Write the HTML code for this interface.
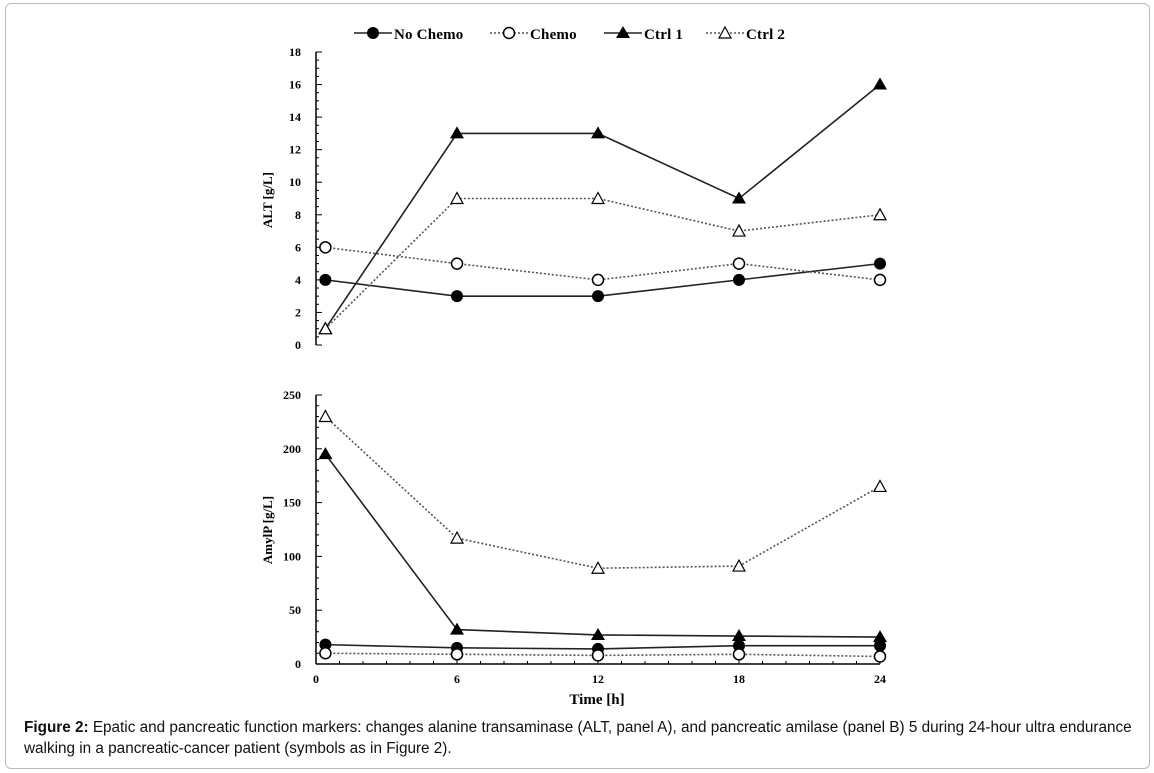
<!DOCTYPE html>
<html><head><meta charset="utf-8"><style>
body{margin:0;background:#fff;width:1154px;height:773px;overflow:hidden;font-family:"Liberation Sans",sans-serif}
#frame{position:absolute;left:5px;top:3px;width:1143px;height:764px;border:1px solid #bbb;border-radius:6px}
#cap{position:absolute;left:24px;top:717px;width:1125px;font-size:15.3px;line-height:21px;color:#111;white-space:nowrap}
</style></head><body>
<div id="frame"></div>
<svg id="chart" width="1154" height="773" style="position:absolute;left:0;top:0" font-family="Liberation Serif, serif" font-weight="bold"></svg>
<div id="cap"><b>Figure 2:</b> Epatic and pancreatic function markers: changes alanine transaminase (ALT, panel A), and pancreatic amilase (panel B) 5 during 24-hour ultra endurance<br>walking in a pancreatic-cancer patient (symbols as in Figure 2).</div>
<script>
const times=[0.4,6,12,18,24];
const seriesNames=["No Chemo","Chemo","Ctrl 1","Ctrl 2"];
const altNoChemo=[4,3,3,4,5];
const altChemo=[6,5,4,5,4];
const altCtrl1=[1,13,13,9,16];
const altCtrl2=[1,9,9,7,8];
const amyNoChemo=[18,15,14,17,17];
const amyChemo=[10,9,8,9,7];
const amyCtrl1=[195,32,27,26,25];
const amyCtrl2=[230,117,89,91,165];
const altTicks=[0,2,4,6,8,10,12,14,16,18];
const amyTicks=[0,50,100,150,200,250];
const xTicks=[0,6,12,18,24];
const NS="http://www.w3.org/2000/svg";
const svg=document.getElementById('chart');
function mk(t,a,p){const e=document.createElementNS(NS,t);for(const k in a)e.setAttribute(k,a[k]);(p||svg).appendChild(e);return e;}
const x=t=>316+t*(880-316)/24;
const yA=v=>345-v*(345-52)/18;
const yB=v=>664-v*(664-395)/250;
const styles=[{dash:null,marker:'dot'},{dash:'2,2',marker:'circle'},{dash:null,marker:'tri'},{dash:'2,2',marker:'otri'}];
function marker(type,cx,cy,g){
  if(type==='dot')mk('circle',{cx,cy,r:6,fill:'#000'},g);
  else if(type==='circle')mk('circle',{cx,cy,r:5.5,fill:'#fff',stroke:'#000','stroke-width':1.5},g);
  else if(type==='tri')mk('polygon',{points:`${cx},${cy-7} ${cx-7},${cy+5} ${cx+7},${cy+5}`,fill:'#000'},g);
  else mk('polygon',{points:`${cx},${cy-6} ${cx-6},${cy+5} ${cx+6},${cy+5}`,fill:'#fff',stroke:'#000','stroke-width':1.2},g);
}
function series(vals,i,yf,name){
  const g=mk('g',{});
  
  
  const st=styles[i];
  const a={points:vals.map((v,k)=>x(times[k])+','+yf(v)).join(' '),fill:'none',stroke:st.dash?'#555':'#222','stroke-width':1.6};
  if(st.dash)a['stroke-dasharray']=st.dash;
  mk('polyline',a,g);
  vals.forEach((v,k)=>marker(st.marker,x(times[k]),yf(v),g));
}
const axA=mk('g',{});


mk('line',{x1:316,y1:yA(18),x2:316,y2:yA(0),stroke:'#000','stroke-width':1.5},axA);
for(let v=0;v<=18;v+=0.5)mk('line',{x1:316,x2:v%2===0?322:319,y1:yA(v),y2:yA(v),stroke:'#000'},axA);
altTicks.forEach(v=>{const t=mk('text',{x:301,y:yA(v)+4,'text-anchor':'end','font-size':12},axA);t.textContent=v;});
const tA=mk('text',{x:272,y:200,'text-anchor':'middle','font-size':13,transform:'rotate(-90 272 200)'});


tA.textContent='ALT [g/L]';
const axB=mk('g',{});


mk('line',{x1:316,y1:yB(250),x2:316,y2:yB(0),stroke:'#000','stroke-width':1.5},axB);
mk('line',{x1:316,y1:yB(0),x2:880,y2:yB(0),stroke:'#000','stroke-width':1.5},axB);
for(let v=0;v<=250;v+=10)mk('line',{x1:316,x2:v%50===0?322:319,y1:yB(v),y2:yB(v),stroke:'#000'},axB);
for(let t=0;t<=24;t++)mk('line',{x1:x(t),x2:x(t),y1:yB(0),y2:yB(0)-(t%6===0?5:3),stroke:'#000'},axB);
amyTicks.forEach(v=>{const t=mk('text',{x:301,y:yB(v)+4,'text-anchor':'end','font-size':12},axB);t.textContent=v;});
xTicks.forEach(v=>{const t=mk('text',{x:x(v),y:683,'text-anchor':'middle','font-size':12},axB);t.textContent=v;});
const tB=mk('text',{x:272,y:530,'text-anchor':'middle','font-size':13,transform:'rotate(-90 272 530)'});


tB.textContent='AmylP [g/L]';
const tX=mk('text',{x:597,y:704,'text-anchor':'middle','font-size':15});


tX.textContent='Time [h]';
series(altNoChemo,0,yA,'alt-no-chemo-line');
series(altChemo,1,yA,'alt-chemo-line');
series(altCtrl1,2,yA,'alt-ctrl1-line');
series(altCtrl2,3,yA,'alt-ctrl2-line');
series(amyNoChemo,0,yB,'amy-no-chemo-line');
series(amyChemo,1,yB,'amy-chemo-line');
series(amyCtrl1,2,yB,'amy-ctrl1-line');
series(amyCtrl2,3,yB,'amy-ctrl2-line');
const lx=[354,490,604,706];
seriesNames.forEach((n,i)=>{
  const g=mk('g',{});
  
  
  const st=styles[i];const a={x1:lx[i],x2:lx[i]+38,y1:33,y2:33,stroke:st.dash?'#555':'#222','stroke-width':1.6};
  if(st.dash)a['stroke-dasharray']=st.dash;
  mk('line',a,g);
  marker(st.marker,lx[i]+19,33,g);
  const t=mk('text',{x:lx[i]+40,y:39,'font-size':15,'letter-spacing':0.2},g);t.textContent=n;
});
</script>
</body></html>
